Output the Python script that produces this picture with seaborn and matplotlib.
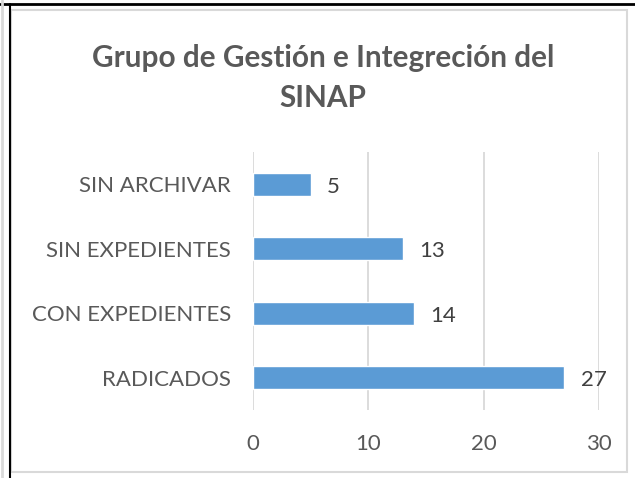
import matplotlib
matplotlib.use("Agg")
import matplotlib.pyplot as plt
import seaborn as sns
import pandas as pd
from matplotlib.patches import Rectangle
from matplotlib.lines import Line2D

# Datos del grafico
categorias = ["SIN ARCHIVAR", "SIN EXPEDIENTES", "CON EXPEDIENTES", "RADICADOS"]
valores = [5, 13, 14, 27]
ticks_x = [0, 10, 20, 30]
titulo = "Grupo de Gestión e Integreción del\nSINAP"

sns.set_style("white")
plt.rcParams["font.family"] = ["Lato", "DejaVu Sans"]

W, H = 635, 478
fig = plt.figure(figsize=(W / 100, H / 100), dpi=100)

# marco gris del grafico y lineas negras de la tabla
fig.patches.append(Rectangle((11 / W, 1 - 472 / H), 616 / W, 462 / H,
                             transform=fig.transFigure, fill=False,
                             edgecolor="#D9D9D9", linewidth=1.5))
fig.lines.append(Line2D([0, 1], [1 - 4 / H, 1 - 4 / H], transform=fig.transFigure,
                        color="black", linewidth=2))
fig.lines.append(Line2D([9.5 / W, 9.5 / W], [0, 1 - 4 / H], transform=fig.transFigure,
                        color="black", linewidth=1.5))
fig.lines.append(Line2D([1.5 / W, 1.5 / W], [0, 1], transform=fig.transFigure,
                        color="#D9D9D9", linewidth=2))

ax = fig.add_axes([253 / W, 1 - 410 / H, 346 / W, 258 / H])
df = pd.DataFrame({"cat": categorias, "val": valores})
sns.barplot(data=df, x="val", y="cat", order=categorias, orient="h",
            color="#5B9BD5", saturation=1, width=0.35, ax=ax)

ax.set_xlim(0, 30)
ax.set_ylim(len(categorias) - 0.5, -0.5)
ax.set_xticks(ticks_x)
ax.set_xlabel("")
ax.set_ylabel("")
ax.grid(axis="x", color="#D9D9D9", linewidth=1.3)
ax.set_axisbelow(True)
for s in ax.spines.values():
    s.set_visible(False)
ax.tick_params(axis="x", length=0, pad=17, labelsize=16, labelcolor="#595959")
ax.tick_params(axis="y", length=0, pad=16, labelsize=16, labelcolor="#595959")

for i, v in enumerate(valores):
    ax.text(v + 1.4, i + 0.04, str(v), va="center", ha="left",
            fontsize=16, color="#404040")

fig.text(323 / W, 1 - 78 / H, titulo, ha="center", va="center",
         fontsize=21.4, fontweight="bold", color="#595959", linespacing=1.52)

fig.savefig("out.png", dpi=100)
